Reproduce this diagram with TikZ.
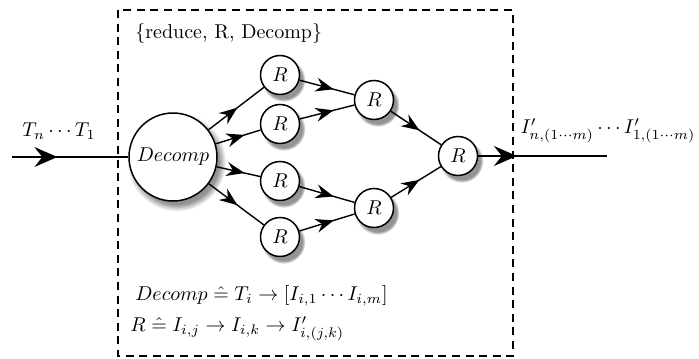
\documentclass[tikz,border=0pt]{standalone}
\usetikzlibrary{arrows.meta,decorations.markings,shadows}
\begin{document}
\begin{tikzpicture}[x=0.5pt,y=-0.5pt,
  proc/.style={circle,draw,line width=0.75pt,fill=white,inner sep=0pt,minimum size=19.5pt,
    circular drop shadow={shadow xshift=1.6pt,shadow yshift=-2.2pt,opacity=0.85,shadow scale=1.12}},
  bigproc/.style={proc,minimum size=44pt},
  flow/.style={line width=0.7pt,postaction={decorate},
    decoration={markings,mark=at position #1 with {\arrow{Stealth[length=9pt,width=7pt,inset=3pt]}}}},
  flow/.default=0.55,
  bigflow/.style={line width=0.7pt,postaction={decorate},
    decoration={markings,mark=at position #1 with {\arrow{Stealth[length=11.5pt,width=10pt,inset=4pt]}}}},
  lbl/.style={inner sep=0pt}
]
\useasboundingbox (0,0) rectangle (699,358);
\draw[dash pattern=on 4pt off 2.8pt,line width=0.6pt] (118,10) rectangle (513,356);

\node[bigproc] (d) at (173,157) {$Decomp$};
\node[proc] (r1) at (280,75) {$R$};
\node[proc] (r2) at (280,124) {$R$};
\node[proc] (r3) at (280,181) {$R$};
\node[proc] (r4) at (280,237) {$R$};
\node[proc] (r5) at (374,100) {$R$};
\node[proc] (r6) at (374,208) {$R$};
\node[proc] (r7) at (458,156) {$R$};

\coordinate (in) at (12,157);
\coordinate (out) at (607,156);

\draw[bigflow=0.39] (in) -- (d);
\draw[flow=0.52] (d) -- (r1);
\draw[flow=0.64] (d) -- (r2);
\draw[flow=0.64] (d) -- (r3);
\draw[flow=0.52] (d) -- (r4);
\draw[flow=0.62] (r1) -- (r5);
\draw[flow=0.62] (r2) -- (r5);
\draw[flow=0.62] (r3) -- (r6);
\draw[flow=0.62] (r4) -- (r6);
\draw[flow=0.57] (r5) -- (r7);
\draw[flow=0.57] (r6) -- (r7);
\draw[bigflow=0.3] (r7) -- (out);

\node[lbl] (tin) at (59,131) {$T_n\cdots T_1$};
\node[lbl] (tout) at (608,131) {$I'_{n,(1\cdots m)}\cdots I'_{1,(1\cdots m)}$};
\node[lbl,anchor=west] (title) at (135,34) {\{reduce, R, Decomp\}};
\node[lbl,anchor=west] (f1) at (135,296) {$Decomp \mathrel{\hat{=}} T_i \rightarrow [I_{i,1}\cdots I_{i,m}]$};
\node[lbl,anchor=west] (f2) at (130,329) {$R \mathrel{\hat{=}} I_{i,j} \rightarrow I_{i,k} \rightarrow I'_{i,(j,k)}$};
\end{tikzpicture}
\end{document}
